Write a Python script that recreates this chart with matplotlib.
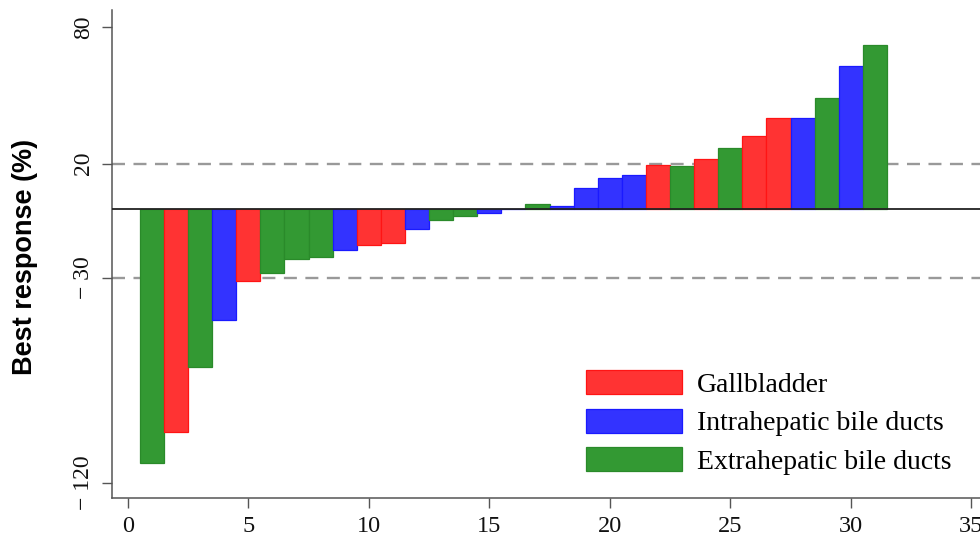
import matplotlib
matplotlib.use("Agg")
import matplotlib.pyplot as plt
from matplotlib.patches import Patch

# Best overall response per patient, sorted (waterfall)
patients = list(range(1, 32))
best_response = [-111.5, -97.7, -69.4, -48.4, -31.6, -27.8, -21.8, -20.8,
                 -17.8, -15.8, -14.8, -8.8, -4.7, -2.9, -1.75, 0.0,
                 2.2, 1.6, 9.1, 13.9, 15.1, 19.2, 19.0, 21.9, 27.0,
                 32.0, 40.1, 40.1, 49.0, 63.0, 71.9]
tumour_site = ["E", "G", "E", "I", "G", "E", "E", "E", "I", "G", "G", "I",
               "E", "E", "I", "I", "E", "I", "I", "I", "I", "G", "E", "G",
               "E", "G", "G", "I", "E", "I", "E"]

site_keys = ["G", "I", "E"]
site_names = ["Gallbladder", "Intrahepatic bile ducts", "Extrahepatic bile ducts"]
site_fill = {"G": "#ff3333", "I": "#3333ff", "E": "#339933"}
site_edge = {"G": "#ff1414", "I": "#1a1aff", "E": "#2a8a2a"}

y_ticks = [80, 20, -30, -120]
y_tick_labels = ["80", "20", "\u2212 30", "\u2212 120"]
x_ticks = [0, 5, 10, 15, 20, 25, 30, 35]
thresholds = [20, -30]

W, H = 980, 539
fig = plt.figure(figsize=(W / 100, H / 100), dpi=100)
ax = fig.add_axes([111.7 / W, 1 - 498.3 / H, 1 - 111.7 / W, (498.3 - 10) / H])

ax.bar(patients, best_response, width=1.0,
       color=[site_fill[s] for s in tumour_site],
       edgecolor=[site_edge[s] for s in tumour_site],
       linewidth=0.9, zorder=2)

for t in thresholds:
    ax.axhline(t, color="#999999", lw=1.7, linestyle=(0, (5.5, 3.6)), zorder=1)
ax.axhline(0, color="#222222", lw=1.3, zorder=3)

ax.set_xlim(-0.67, 35.36)
ax.set_ylim(-126.8, 87.4)

serif = "Liberation Serif"
ax.set_yticks(y_ticks)
ax.set_yticklabels(y_tick_labels, rotation=90, va="center",
                   family=serif, fontsize=17)
ax.set_xticks(x_ticks)
ax.set_xticklabels([str(v) for v in x_ticks], family=serif, fontsize=17.5)

for side in ["top", "right"]:
    ax.spines[side].set_visible(False)
for side in ["left", "bottom"]:
    ax.spines[side].set_color("#555555")
    ax.spines[side].set_linewidth(1.1)
ax.tick_params(axis="both", direction="out", length=7, width=1.0,
               color="#555555", labelcolor="#111111")
ax.tick_params(axis="y", pad=6)
ax.tick_params(axis="x", pad=5.5)

ax.set_ylabel("Best response (%)", family="Liberation Sans", fontweight="bold",
              fontsize=19.5)
ax.yaxis.set_label_coords(25 / W, 1 - 257 / H, transform=fig.transFigure)
ax.yaxis.label.set_va("center")

handles = [Patch(facecolor=site_fill[k], edgecolor=site_edge[k], linewidth=0.9)
           for k in site_keys]
leg = ax.legend(handles, site_names, loc="upper left",
                bbox_to_anchor=(586 / W, 1 - 370 / H),
                bbox_transform=fig.transFigure, frameon=False,
                prop={"family": serif, "size": 20},
                handlelength=3.45, handleheight=0.95, handletextpad=0.53,
                labelspacing=0.4, borderpad=0, borderaxespad=0)

fig.savefig("out.png", dpi=100)
